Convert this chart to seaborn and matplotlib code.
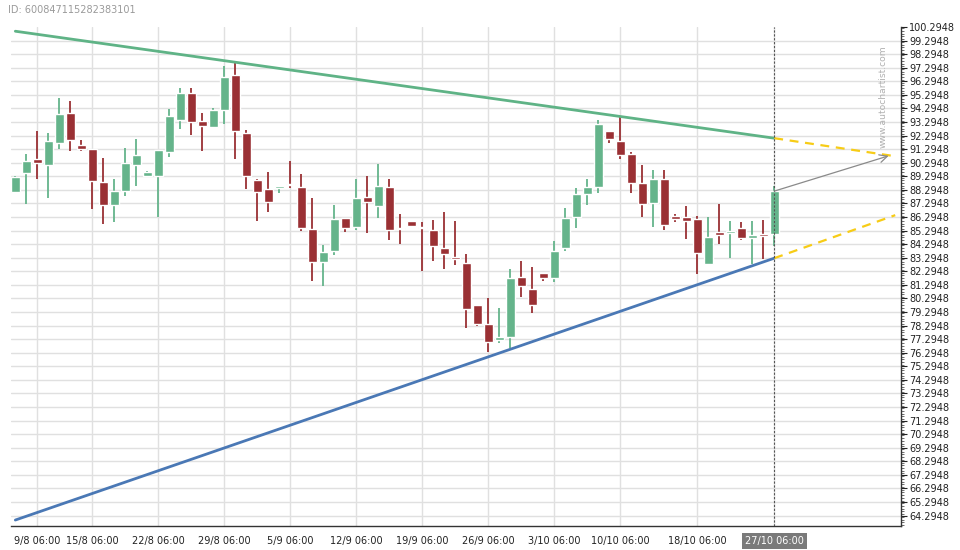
"""Triangle pattern candlestick chart (autochartist style).
"""
import matplotlib
matplotlib.use("Agg")
import matplotlib.pyplot as plt
import numpy as np
import pandas as pd
import seaborn as sns
from matplotlib.ticker import FixedLocator, MultipleLocator

# Daily candles
opens = [88.17, 89.57, 90.58, 90.16, 91.78, 93.96, 91.61, 91.31, 88.89, 87.15,
         88.18, 90.16, 89.33, 89.33, 91.09, 93.45, 95.43, 93.37, 92.96, 94.21,
         96.76, 92.49, 89.04, 88.37, 88.40, 88.69, 88.52, 85.43, 82.96, 83.77,
         86.24, 85.53, 87.79, 87.07, 88.52, 85.43, 86.02, 85.51, 85.36, 84.04,
         83.37, 82.93, 79.84, 78.38, 77.22, 77.47, 81.86, 80.98, 82.16, 81.79,
         84.02, 86.30, 87.99, 88.51, 92.61, 91.88, 90.92, 88.78, 87.33, 89.08,
         86.36, 86.28, 86.13, 82.82, 85.18, 85.10, 85.47, 84.76, 84.96, 85.05]
highs = [89.33, 90.92, 92.61, 92.47, 95.04, 94.84, 91.95, 91.31, 90.63, 89.08,
         91.36, 92.03, 89.70, 91.24, 94.23, 95.77, 95.77, 93.99, 94.31, 97.42,
         97.61, 92.71, 89.08, 89.60, 88.60, 90.41, 89.45, 87.69, 84.26, 87.17,
         86.24, 89.08, 89.33, 90.21, 89.08, 86.51, 86.02, 85.90, 86.07, 86.68,
         85.99, 83.55, 79.84, 80.33, 79.56, 82.43, 83.04, 82.58, 82.16, 84.54,
         86.99, 88.46, 89.13, 93.42, 92.61, 93.67, 91.09, 90.09, 89.72, 89.72,
         86.55, 87.14, 86.38, 86.28, 87.22, 85.97, 85.89, 85.99, 86.06, 88.56]
lows = [88.10, 87.25, 89.13, 87.69, 91.29, 91.19, 91.17, 86.88, 85.75, 85.92,
        87.83, 88.57, 89.21, 86.27, 90.68, 92.81, 92.32, 91.12, 92.83, 93.13,
        90.56, 88.35, 86.02, 86.66, 88.05, 88.42, 85.24, 81.56, 81.22, 83.50,
        85.16, 85.33, 85.09, 86.19, 84.60, 84.30, 85.58, 82.34, 83.06, 82.46,
        82.76, 78.13, 78.30, 76.36, 76.98, 76.61, 80.41, 79.19, 81.57, 81.47,
        83.76, 85.45, 87.16, 88.03, 91.75, 90.60, 88.03, 86.33, 85.59, 85.30,
        85.91, 84.64, 82.13, 82.77, 84.27, 83.24, 84.57, 82.82, 83.17, 84.17]
closes = [89.25, 90.43, 90.24, 91.90, 93.89, 92.00, 91.27, 88.91, 87.15, 88.23,
          90.28, 90.87, 89.62, 91.24, 93.74, 95.43, 93.32, 93.03, 94.18, 96.61,
          92.66, 89.28, 88.10, 87.37, 88.60, 88.64, 85.46, 82.96, 83.74, 86.17,
          85.46, 87.71, 87.37, 88.59, 85.31, 85.38, 85.65, 85.46, 84.13, 83.55,
          83.18, 79.50, 78.40, 77.10, 77.44, 81.79, 81.22, 79.82, 81.81, 83.78,
          86.21, 87.97, 88.51, 93.18, 92.05, 90.87, 88.81, 87.26, 89.08, 85.71,
          86.16, 86.01, 83.63, 84.81, 84.98, 85.25, 84.76, 84.96, 84.91, 88.19]

date_ticks = [2, 7, 13, 19, 25, 31, 37, 43, 49, 55, 62, 69]
date_labels = ["9/8 06:00", "15/8 06:00", "22/8 06:00", "29/8 06:00",
               "5/9 06:00", "12/9 06:00", "19/9 06:00", "26/9 06:00",
               "3/10 06:00", "10/10 06:00", "18/10 06:00", "27/10 06:00"]
minor_date_ticks = [0.7, 4, 10, 16, 22, 28, 34, 40, 46, 52, 58.5, 65, 70, 71.3, 72.5]

# Triangle lines (candle index, price)
line_x = [0, 69]
resistance = [99.98, 92.10]
support = [63.97, 83.26]
proj_x = [69, 80]
resistance_proj = [92.10, 90.77]
support_proj = [83.26, 86.43]
forecast_start = (69, 88.2)
forecast_end = (79.4, 90.8)

price_ticks = np.round(64.2948 + np.arange(37), 4)

GREEN = "#65b48b"
RED = "#9a3034"

df = pd.DataFrame({"open": opens, "high": highs, "low": lows, "close": closes})
df["idx"] = np.arange(len(df))
df["up"] = df["close"] >= df["open"]
df["color"] = np.where(df["up"], GREEN, RED)
df["body_lo"] = df[["open", "close"]].min(axis=1)
df["body_h"] = (df["close"] - df["open"]).abs().clip(lower=0.1)

sns.set_style("white")
plt.rcParams["font.family"] = ["DejaVu Sans"]

fig = plt.figure(figsize=(9.6, 5.5), dpi=100)
ax = fig.add_axes([0.0115, 0.0436, 0.927, 0.9074])

# Grid
ax.set_axisbelow(True)
ax.grid(True, color="#e0e0e0", lw=1)

# Candles
ax.vlines(df["idx"], df["low"], df["high"], colors=df["color"], lw=1.3, zorder=2)
ax.bar(df["idx"], df["body_h"], bottom=df["body_lo"], width=0.82,
       color=df["color"], zorder=3)

# Triangle
sns.lineplot(x=line_x, y=resistance, ax=ax, color="#5fb386", lw=2, zorder=4)
sns.lineplot(x=line_x, y=support, ax=ax, color="#4a78b5", lw=2, zorder=4)
ax.plot(proj_x, resistance_proj, color="#f7cc16", lw=1.6, ls=(0, (4, 3)), zorder=4)
ax.plot(proj_x, support_proj, color="#f7cc16", lw=1.6, ls=(0, (4, 3)), zorder=4)
ax.annotate("", xy=forecast_end, xytext=forecast_start,
            arrowprops=dict(arrowstyle="->", color="#8a8a8a", lw=0.9,
                            mutation_scale=14, shrinkA=0, shrinkB=0), zorder=5)

# Current candle marker
ax.axvline(69, color="#555555", lw=0.8, ls=(0, (2, 1.5)), zorder=4)

ax.set_xlim(-0.39, 80.52)
ax.set_ylim(63.53, 100.2948)

ax.yaxis.tick_right()
ax.set_yticks(price_ticks)
ax.set_yticklabels([f"{v:.4f}" for v in price_ticks])
ax.yaxis.set_minor_locator(MultipleLocator(0.2))
ax.get_ygridlines()[-1].set_visible(False)

ax.set_xticks(date_ticks)
ax.set_xticklabels(date_labels)
ax.xaxis.set_minor_locator(FixedLocator(minor_date_ticks))

ax.tick_params(axis="both", which="major", labelsize=7, colors="#222222",
               length=4, width=0.8, pad=2)
ax.tick_params(axis="both", which="minor", length=2, width=0.6, colors="#555555")
ax.tick_params(axis="x", which="major", pad=3)

last_label = ax.get_xticklabels()[-1]
last_label.set_color("white")
last_label.set_bbox(dict(facecolor="#7a7a7a", edgecolor="none", pad=2))

for side in ["left", "top"]:
    ax.spines[side].set_visible(False)
for side in ["bottom", "right"]:
    ax.spines[side].set_color("#333333")
    ax.spines[side].set_linewidth(1)

fig.text(8 / 960, 1 - 10 / 550, "ID: 600847115282383101", color="#9a9a9a",
         fontsize=7, va="center", ha="left")
fig.text(883 / 960, 1 - 97 / 550, "www.autochartist.com", color="#b0b0b0",
         fontsize=6.6, rotation=90, va="center", ha="center")

fig.savefig("out.png", dpi=100)
